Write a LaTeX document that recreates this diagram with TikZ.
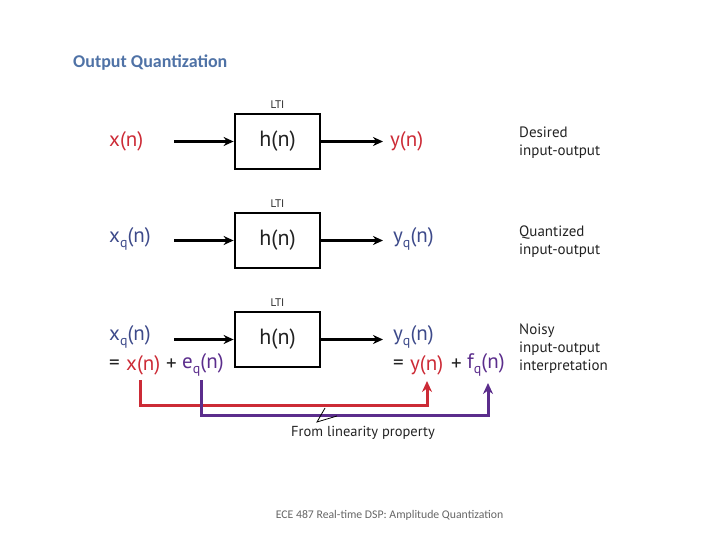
\documentclass[tikz,border=0pt]{standalone}
\usepackage{fontspec}
\setmainfont{PT Sans}
\newfontfamily\calfont{Carlito}
\usetikzlibrary{arrows.meta,positioning}
\definecolor{redc}{HTML}{CC2B36}
\definecolor{bluec}{HTML}{3D4A8A}
\definecolor{purc}{HTML}{5B2D8C}
\definecolor{titlec}{HTML}{4F72A6}
\definecolor{txtc}{HTML}{222222}
\newcommand{\qsub}{\raisebox{-0.45ex}{\fontsize{14}{14}\selectfont q}}
\begin{document}
\begin{tikzpicture}[x=1pt,y=-1pt,
  box/.style={draw=black,line width=2.8pt,minimum width=85pt,minimum height=55pt,inner sep=0pt,font=\fontsize{22}{22}\selectfont,text=txtc},
  sig/.style={anchor=west,inner sep=0pt,font=\fontsize{21}{21}\selectfont},
  lti/.style={font=\fontsize{11}{11}\selectfont,text=txtc,inner sep=0pt},
  desc/.style={anchor=west,align=left,font=\fontsize{15}{18}\selectfont,text=txtc,inner sep=0pt},
  arr/.style={line width=2.6pt,-{Stealth[length=10pt,width=9pt]}},
  conn/.style={line width=3pt,-{Stealth[length=11pt,width=10pt]}}]
\useasboundingbox (0,0) rectangle (720,540);
\node[anchor=west,inner sep=0pt,font=\calfont\fontsize{18}{18}\selectfont\bfseries,text=titlec] (title) at (73,63) {Output Quantization};
% row 1
\node[box] (h1) at (277.5,141.5) {h(n)};
\node[lti,above=4pt of h1] (l1) {LTI};
\coordinate (i1) at (174,141.5);
\coordinate (o1) at (383,141.5);
\draw[arr] (i1) -- (h1.west);
\draw[arr] (h1.east) -- (o1);
\node[sig,text=redc] (x1) at (109,141) {x(n)};
\node[sig,text=redc] (y1) at (390,141) {y(n)};
\node[desc] (d1) at (519,143) {Desired\\input-output};
% row 2
\node[box] (h2) at (277.5,240.5) {h(n)};
\node[lti,above=4pt of h2] (l2) {LTI};
\coordinate (i2) at (174,240.5);
\coordinate (o2) at (383,240.5);
\draw[arr] (i2) -- (h2.west);
\draw[arr] (h2.east) -- (o2);
\node[sig,text=bluec] (x2) at (109,239) {x\qsub(n)};
\node[sig,text=bluec] (y2) at (393,239) {y\qsub(n)};
\node[desc] (d2) at (519,242) {Quantized\\input-output};
% row 3
\node[box] (h3) at (277.5,339.5) {h(n)};
\node[lti,above=4pt of h3] (l3) {LTI};
\coordinate (i3) at (174,339.5);
\coordinate (o3) at (383,339.5);
\draw[arr] (i3) -- (h3.west);
\draw[arr] (h3.east) -- (o3);
\node[sig,text=bluec] (x3) at (109,337) {x\qsub(n)};
\node[sig,text=bluec] (y3) at (393,337) {y\qsub(n)};
\node[sig,text=txtc] (eqa) at (109,365) {=};
\node[sig,text=redc] (xa) at (126,365) {x(n)};
\node[sig,text=txtc] (pa) at (166,365) {+};
\node[sig,text=purc] (ea) at (182,365) {e\qsub(n)};
\node[sig,text=txtc] (eqb) at (393,365) {=};
\node[sig,text=redc] (ya) at (410,365) {y(n)};
\node[sig,text=txtc] (pb) at (451,365) {+};
\node[sig,text=purc] (fa) at (467,365) {f\qsub(n)};
\node[desc] (d3) at (519,349) {Noisy\\input-output\\interpretation};
% connectors
\coordinate (rs) at (140,380);
\coordinate (re) at (427,381);
\coordinate (ps) at (201,380);
\coordinate (pe) at (488,383);
\draw[conn,redc] (rs) -- (140,405) -| (re);
\draw[conn,purc] (ps) -- (201,415) -| (pe);
\node[inner sep=0pt,font=\fontsize{14.5}{14.5}\selectfont,text=txtc] (lin) at (363,433) {From linearity property};
\coordinate (c1) at (325,408);
\coordinate (c2) at (317,422);
\coordinate (c3) at (337,416);
\draw[line width=0.8pt,black] (c1) -- (c2) -- (c3);
\node[inner sep=0pt,font=\calfont\fontsize{11.75}{11.75}\selectfont,text=black!60] (foot) at (389.5,515) {ECE 487 Real-time DSP: Amplitude Quantization};
\end{tikzpicture}
\end{document}
